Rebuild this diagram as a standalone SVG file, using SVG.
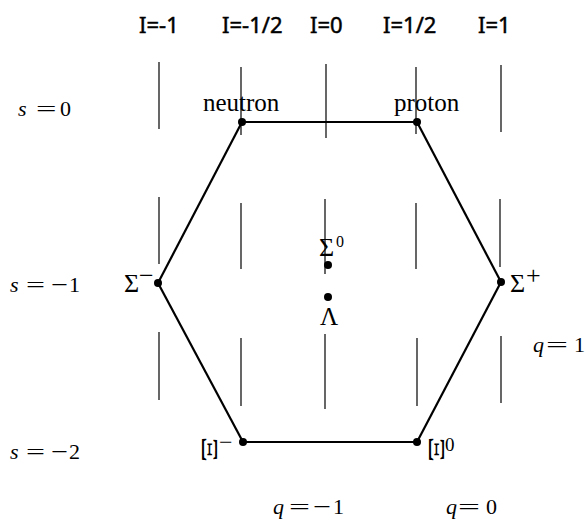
<svg xmlns="http://www.w3.org/2000/svg" width="586" height="521" viewBox="0 0 586 521">
<style>
.bg{fill:#fff}
.grid line{stroke:#000;stroke-width:1.2}
.edge{stroke:#000;stroke-width:2.2;fill:none}
.dot{fill:#000}
.iso{font-family:"Noto Sans","Open Sans",sans-serif;font-size:22px;fill:#000;stroke:#000;stroke-width:0.5}
.tx{font-family:"Liberation Serif","Times New Roman",serif;fill:#000}
.m{font-size:22px}
.it{font-style:italic}
.g{font-size:26px}
.xi{font-size:23px}
.nm{font-size:25px}
</style>
<rect class="bg" x="0" y="0" width="586" height="521"/>
<g id="isospin-labels" class="iso">
<text x="139" y="33">I=-1</text>
<text x="222" y="33">I=-1/2</text>
<text x="310" y="33">I=0</text>
<text x="383" y="33">I=1/2</text>
<text x="478" y="33">I=1</text>
</g>
<g id="grid" class="grid">
<line x1="159" y1="62" x2="159" y2="129"/>
<line x1="241" y1="67" x2="241" y2="135"/>
<line x1="326" y1="64" x2="326" y2="138"/>
<line x1="416" y1="67" x2="416" y2="134"/>
<line x1="501" y1="65" x2="501" y2="132"/>
<line x1="159" y1="197" x2="159" y2="264"/>
<line x1="241" y1="203" x2="241" y2="269"/>
<line x1="325" y1="199" x2="325" y2="274"/>
<line x1="416" y1="203" x2="416" y2="269"/>
<line x1="500" y1="199" x2="500" y2="267"/>
<line x1="159" y1="332" x2="159" y2="400"/>
<line x1="241" y1="338" x2="241" y2="406"/>
<line x1="325" y1="334" x2="325" y2="409"/>
<line x1="417" y1="338" x2="417" y2="406"/>
<line x1="501" y1="336" x2="501" y2="403"/>
</g>
<g id="axis-labels" class="tx m">
<g id="s0"><text class="it" x="18" y="116">s</text><text x="36" y="116" textLength="20.5" lengthAdjust="spacingAndGlyphs">=</text><text x="60" y="116">0</text></g>
<g id="s-1"><text class="it" x="10" y="292">s</text><text x="26" y="292" textLength="19" lengthAdjust="spacingAndGlyphs">=</text><text x="51" y="292" textLength="17" lengthAdjust="spacingAndGlyphs">−</text><text x="69" y="292">1</text></g>
<g id="s-2"><text class="it" x="10" y="459">s</text><text x="26" y="459" textLength="19" lengthAdjust="spacingAndGlyphs">=</text><text x="51" y="459" textLength="17" lengthAdjust="spacingAndGlyphs">−</text><text x="69" y="459">2</text></g>
<g id="q1"><text class="it" x="533" y="352">q</text><text x="546" y="352" textLength="22" lengthAdjust="spacingAndGlyphs">=</text><text x="574" y="352">1</text></g>
<g id="q0"><text class="it" x="446" y="514">q</text><text x="458" y="514" textLength="22" lengthAdjust="spacingAndGlyphs">=</text><text x="486" y="514">0</text></g>
<g id="q-1"><text class="it" x="273" y="514">q</text><text x="289" y="514" textLength="21" lengthAdjust="spacingAndGlyphs">=</text><text x="313" y="514" textLength="18" lengthAdjust="spacingAndGlyphs">−</text><text x="333" y="514">1</text></g>
</g>
<g id="connectors">
<line class="edge" x1="242" y1="122" x2="417" y2="122"/>
<line class="edge" x1="417" y1="122" x2="501" y2="282"/>
<line class="edge" x1="501" y1="282" x2="417" y2="442"/>
<line class="edge" x1="417" y1="442" x2="243" y2="442"/>
<line class="edge" x1="243" y1="442" x2="158" y2="283"/>
<line class="edge" x1="158" y1="283" x2="242" y2="122"/>
</g>
<g id="neutron"><circle class="dot" cx="242" cy="122" r="4"/><text class="tx nm" x="203" y="111">neutron</text></g>
<g id="proton"><circle class="dot" cx="417" cy="122" r="4"/><text class="tx nm" x="394" y="111">proton</text></g>
<g id="sigma-minus"><circle class="dot" cx="158" cy="283" r="4"/><text class="tx g" x="124" y="292">Σ</text><text class="tx g" x="139" y="284">−</text></g>
<g id="sigma-plus"><circle class="dot" cx="501" cy="282" r="4"/><text class="tx g" x="510" y="292">Σ</text><text class="tx g" x="526" y="284">+</text></g>
<g id="sigma-zero"><circle class="dot" cx="328" cy="265" r="4"/><text class="tx g" x="319" y="256">Σ</text><text class="tx" style="font-size:16px" x="336" y="247">0</text></g>
<g id="lambda"><circle class="dot" cx="328" cy="297" r="4"/><text class="tx" style="font-size:25px" text-anchor="middle" x="329" y="325">Λ</text></g>
<g id="xi-minus"><circle class="dot" cx="243" cy="442" r="4"/><text class="tx xi" text-anchor="middle" transform="translate(210,449.5) rotate(90) scale(1.75,1)" x="0" y="7.5">Ξ</text><text class="tx" style="font-size:24px" x="219" y="450">−</text></g>
<g id="xi-zero"><circle class="dot" cx="417" cy="442" r="4"/><text class="tx xi" text-anchor="middle" transform="translate(436.5,449.5) rotate(90) scale(1.75,1)" x="0" y="7.5">Ξ</text><text class="tx" style="font-size:19px" x="445" y="451">0</text></g>
</svg>
